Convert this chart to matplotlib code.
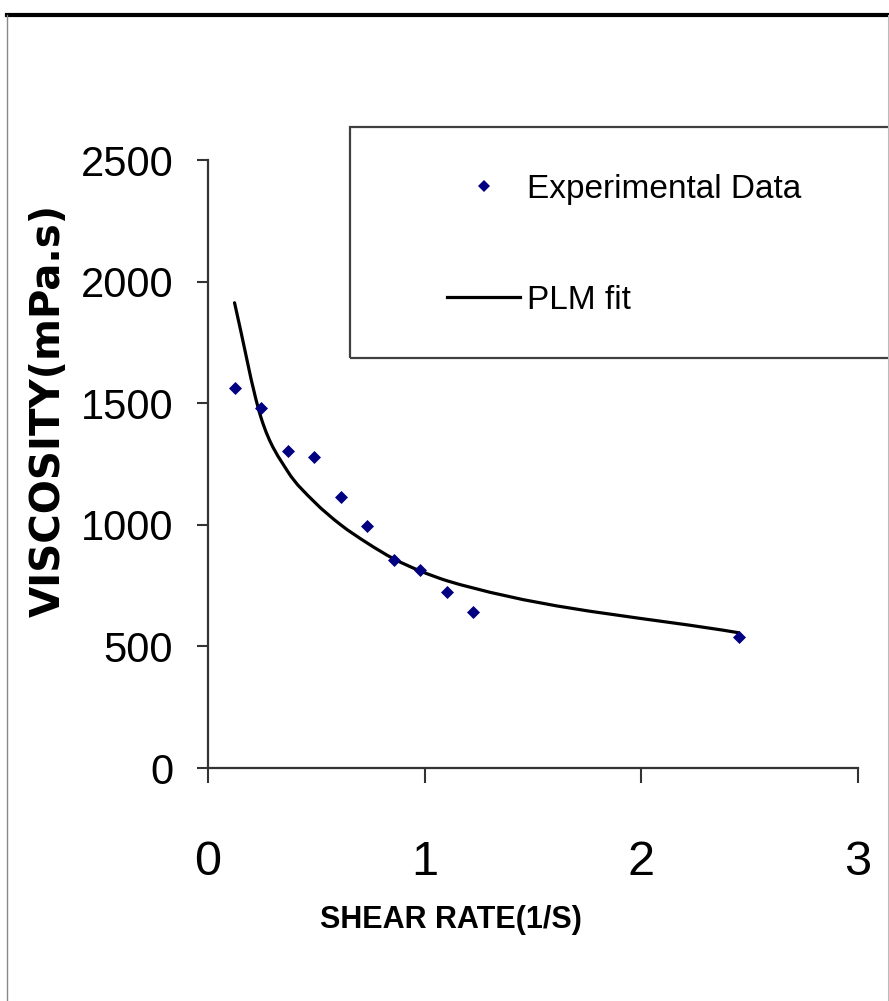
import numpy as np
import matplotlib
matplotlib.use("Agg")
import matplotlib.pyplot as plt
from matplotlib.path import Path
from matplotlib.patches import PathPatch, Rectangle
from matplotlib.lines import Line2D

# shear rate (1/s) and viscosity (mPa.s)
shear_rate = [0.1225, 0.245, 0.3675, 0.49, 0.6125, 0.735, 0.8575, 0.98, 1.1025, 1.225, 2.45]
visc_exp = [1561, 1479, 1303, 1280, 1113, 995, 855, 814, 722, 640, 539]
visc_plm = [1913, 1440, 1220, 1095, 1000, 925, 860, 810, 770, 740, 556]

x_ticks = [0, 1, 2, 3]
y_ticks = [0, 500, 1000, 1500, 2000, 2500]

arial = ["Liberation Sans", "DejaVu Sans"]
spine_col = "#333333"
pt_col = "#000080"

fig = plt.figure(figsize=(8.89, 10.01), dpi=100)
fig.patch.set_facecolor("white")
ax = fig.add_axes([208 / 889, 1 - 768 / 1001, 650 / 889, 608 / 1001])

ax.scatter(shear_rate, visc_exp, marker="D", s=44, color=pt_col, zorder=3,
           linewidths=0)

# smoothed fit line: cubic Hermite pieces drawn as Bezier curves
xs = np.array(shear_rate)
ys = np.array(visc_plm)
n = len(xs)
slopes = np.zeros(n)
for i in range(n):
    if i == 0:
        slopes[i] = (ys[1] - ys[0]) / (xs[1] - xs[0])
    elif i == n - 1:
        slopes[i] = (ys[-1] - ys[-2]) / (xs[-1] - xs[-2])
    else:
        h0, h1 = xs[i] - xs[i - 1], xs[i + 1] - xs[i]
        d0 = (ys[i] - ys[i - 1]) / h0
        d1 = (ys[i + 1] - ys[i]) / h1
        slopes[i] = (h1 * d0 + h0 * d1) / (h0 + h1)
verts = [(xs[0], ys[0])]
codes = [Path.MOVETO]
for i in range(n - 1):
    h = xs[i + 1] - xs[i]
    verts += [(xs[i] + h / 3, ys[i] + slopes[i] * h / 3),
              (xs[i + 1] - h / 3, ys[i + 1] - slopes[i + 1] * h / 3),
              (xs[i + 1], ys[i + 1])]
    codes += [Path.CURVE4] * 3
ax.add_patch(PathPatch(Path(verts, codes), fill=False, edgecolor="black",
                       lw=2.3, zorder=2, capstyle="round"))

ax.set_xlim(0, 3)
ax.set_ylim(0, 2500)
ax.set_xticks(x_ticks)
ax.set_yticks(y_ticks)
ax.set_xticklabels([str(v) for v in x_ticks], family=arial, fontsize=35)
ax.set_yticklabels([str(v) for v in y_ticks], family=arial, fontsize=30)
ax.tick_params(axis="x", direction="out", length=11, width=1.5, color=spine_col, pad=41)
ax.tick_params(axis="y", direction="out", length=8, width=1.5, color=spine_col, pad=17)

for side in ["top", "right"]:
    ax.spines[side].set_visible(False)
for side in ["left", "bottom"]:
    ax.spines[side].set_color(spine_col)
    ax.spines[side].set_linewidth(1.6)

ax.set_xlabel("SHEAR RATE(1/S)", family=arial, fontweight="bold", fontsize=22)
ax.xaxis.set_label_coords((451 - 208) / 650, (768 - 920) / 608)
ax.xaxis.label.set_va("center")

ax.set_ylabel("VISCOSITY(mPa.s)", family="DejaVu Sans", fontweight="bold", fontsize=29)
ax.yaxis.set_label_coords((49 - 208) / 650, (768 - 410) / 608)
ax.yaxis.label.set_va("center")

# legend box and contents
fig.patches.append(Rectangle((350 / 889, 1 - 358 / 1001), 560 / 889, 231 / 1001,
                             transform=fig.transFigure, fill=False,
                             edgecolor="#404040", lw=1.6))
handles = [Line2D([], [], marker="D", ls="none", color=pt_col, markersize=6.5,
                  markeredgewidth=0),
           Line2D([], [], color="black", lw=2.3)]
fig.legend(handles, ["Experimental Data", "PLM fit"], loc="center left",
           bbox_to_anchor=(447 / 889, 1 - 245 / 1001), frameon=False,
           prop={"family": arial, "size": 24}, handlelength=2.2,
           handletextpad=0.2, labelspacing=2.4, borderpad=0, borderaxespad=0)

# outer chart-area border
fig.add_artist(Line2D([7 / 889, 1], [1 - 15 / 1001, 1 - 15 / 1001], color="black",
                      lw=3.0, transform=fig.transFigure))
fig.add_artist(Line2D([7 / 889, 7 / 889], [0, 1 - 15 / 1001], color="#888888",
                      lw=1.0, transform=fig.transFigure))
fig.add_artist(Line2D([888 / 889, 888 / 889], [0, 1 - 15 / 1001], color="#bbbbbb",
                      lw=0.8, transform=fig.transFigure))

fig.savefig("out.png", dpi=100)
plt.close(fig)
